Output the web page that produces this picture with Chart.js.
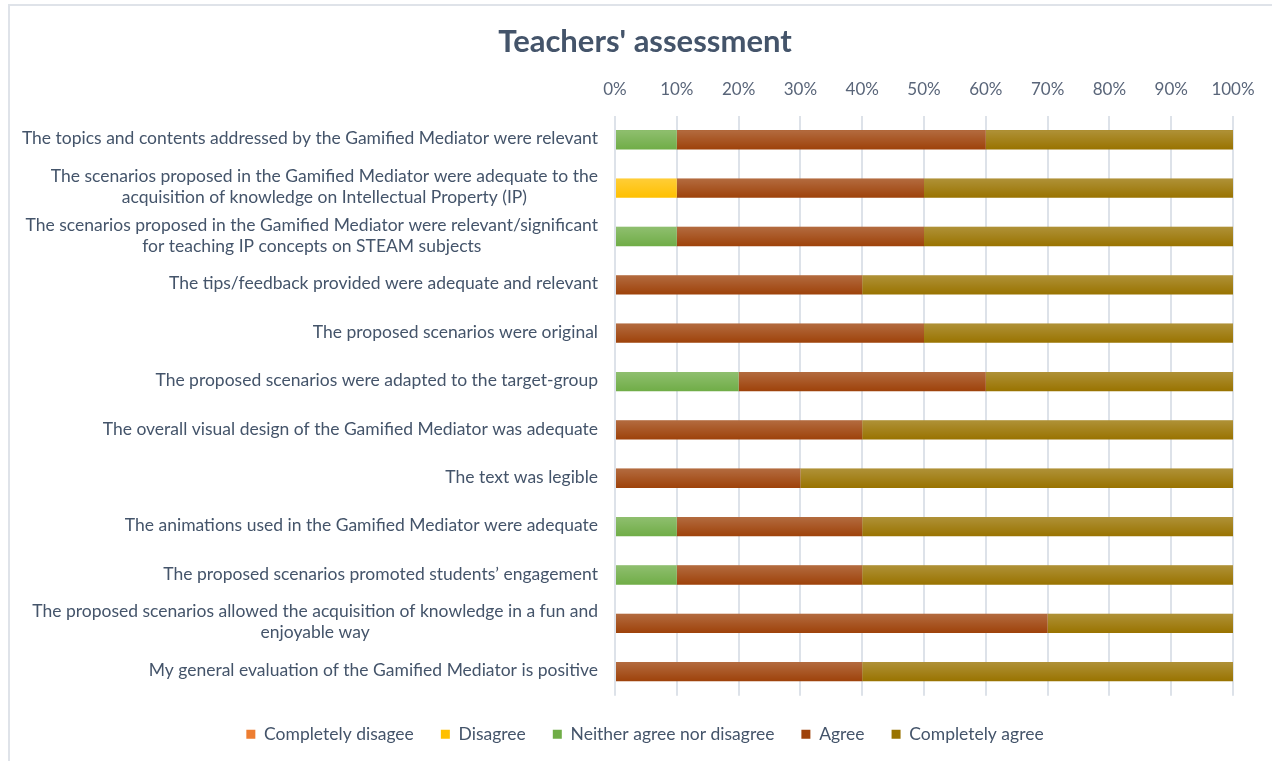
<!DOCTYPE html>
<html>
<head>
<meta charset="utf-8">
<script src="https://cdn.jsdelivr.net/npm/chart.js@4.4.1/dist/chart.umd.min.js"></script>
<style>
    html, body { margin: 0; padding: 0; background: #fff; }
    #wrap { position: relative; width: 1272px; height: 761px; }
    #frame { position: absolute; left: 8px; top: 4px; right: -10px; bottom: -10px; border-left: 2px solid #dfe3e9; border-top: 2px solid #dfe3e9; pointer-events: none; }
    canvas { position: absolute; left: 0; top: 0; }
</style>
</head>
<body>
<div id="wrap">
    <canvas id="barChart" width="1272" height="761"></canvas>
    <div id="frame"></div>
</div>
<script>
// statements, top to bottom (multi-line labels are arrays)
var categories = [
    ['The topics and contents addressed by the Gamified Mediator were relevant'],
    ['The scenarios proposed in the Gamified Mediator were adequate to the', 'acquisition of knowledge on Intellectual Property (IP)'],
    ['The scenarios proposed in the Gamified Mediator were relevant/significant', 'for teaching IP concepts on STEAM subjects'],
    ['The tips/feedback provided were adequate and relevant'],
    ['The proposed scenarios were original'],
    ['The proposed scenarios were adapted to the target-group'],
    ['The overall visual design of the Gamified Mediator was adequate'],
    ['The text was legible'],
    ['The animations used in the Gamified Mediator were adequate'],
    ['The proposed scenarios promoted students\u2019 engagement'],
    ['The proposed scenarios allowed the acquisition of knowledge in a fun and', 'enjoyable way'],
    ['My general evaluation of the Gamified Mediator is positive']
];

var seriesNames = ['Completely disagee', 'Disagree', 'Neither agree nor disagree', 'Agree', 'Completely agree'];
var seriesColors = ['#ED7D31', '#FFC000', '#70AD47', '#9E420A', '#997300'];

// percentages per series
var completelyDisagree = [0, 0, 0, 0, 0, 0, 0, 0, 0, 0, 0, 0];
var disagree           = [0, 10, 0, 0, 0, 0, 0, 0, 0, 0, 0, 0];
var neither            = [10, 0, 10, 0, 0, 20, 0, 0, 10, 10, 0, 0];
var agree              = [50, 40, 40, 40, 50, 40, 40, 30, 30, 30, 70, 40];
var completelyAgree    = [40, 50, 50, 60, 50, 40, 60, 70, 60, 60, 30, 60];

var xTicks = [0, 10, 20, 30, 40, 50, 60, 70, 80, 90, 100];

var seriesValues = [completelyDisagree, disagree, neither, agree, completelyAgree];

var labelFont = '17.5px Lato';
var textColor = '#44546A';

// soft lighter band at the top of each bar, like the office gradient fill
var barShine = {
    id: 'barShine',
    afterDatasetsDraw: function(chart) {
        var ctx = chart.ctx;
        chart.data.datasets.forEach(function(ds, i) {
            var meta = chart.getDatasetMeta(i);
            meta.data.forEach(function(bar) {
                var left = Math.min(bar.x, bar.base);
                var w = Math.abs(bar.x - bar.base);
                if (w < 0.5) return;
                var top = bar.y - bar.height / 2;
                var g = ctx.createLinearGradient(0, top, 0, top + bar.height);
                g.addColorStop(0, 'rgba(255,255,255,0.22)');
                g.addColorStop(1, 'rgba(255,255,255,0)');
                ctx.save();
                ctx.fillStyle = g;
                ctx.fillRect(left, top, w, bar.height);
                ctx.restore();
            });
        });
    }
};

// category labels: block right aligned, lines centred inside the block
var categoryLabels = {
    id: 'categoryLabels',
    afterDraw: function(chart) {
        var ctx = chart.ctx;
        var yScale = chart.scales.y;
        var right = chart.chartArea.left - 17;
        ctx.save();
        ctx.font = labelFont;
        ctx.fillStyle = textColor;
        ctx.textAlign = 'center';
        ctx.textBaseline = 'middle';
        categories.forEach(function(lines, i) {
            var y = yScale.getPixelForTick(i);
            var blockW = 0;
            lines.forEach(function(l) { blockW = Math.max(blockW, ctx.measureText(l).width); });
            var cx = right - blockW / 2;
            var lh = 21;
            var y0 = y - (lines.length - 1) * lh / 2 - 1;
            lines.forEach(function(l, k) {
                ctx.fillText(l, cx, y0 + k * lh);
            });
        });
        ctx.restore();
    }
};

var ctx = document.getElementById('barChart').getContext('2d');
var barChart = new Chart(ctx, {
    type: 'bar',
    data: {
        labels: categories,
        datasets: seriesNames.map(function(name, i) {
            return {
                label: name,
                data: seriesValues[i],
                backgroundColor: seriesColors[i],
                borderWidth: 0,
                barPercentage: 0.4,
                categoryPercentage: 1
            };
        })
    },
    options: {
        indexAxis: 'y',
        responsive: false,
        animation: false,
        layout: {
            padding: { left: 57, right: 39, top: 0, bottom: 8 }
        },
        scales: {
            x: {
                position: 'top',
                stacked: true,
                min: 0,
                max: 100,
                border: { display: false },
                grid: { color: '#dde2e9', lineWidth: 2, drawTicks: false },
                afterBuildTicks: function(scale) {
                    scale.ticks = xTicks.map(function(v) { return { value: v }; });
                },
                ticks: {
                    padding: 16,
                    color: '#596579',
                    font: { family: 'Lato', size: 17 },
                    callback: function(v) { return v + '%'; }
                }
            },
            y: {
                stacked: true,
                border: { display: false },
                grid: { display: false },
                ticks: { display: false },
                afterFit: function(scale) { scale.width = 558; }
            }
        },
        plugins: {
            title: {
                display: true,
                text: "Teachers' assessment",
                color: textColor,
                font: { family: 'Lato', size: 31, weight: 'bold' },
                padding: { top: 23, bottom: 3 }
            },
            legend: {
                position: 'bottom',
                title: { display: true, text: '', font: { size: 2.2 }, padding: 0 },
                labels: {
                    color: textColor,
                    font: { family: 'Lato', size: 17.5 },
                    boxWidth: 9,
                    boxHeight: 9,
                    padding: 27
                }
            },
            tooltip: { enabled: false }
        }
    },
    plugins: [barShine, categoryLabels]
});
</script>
</body>
</html>
